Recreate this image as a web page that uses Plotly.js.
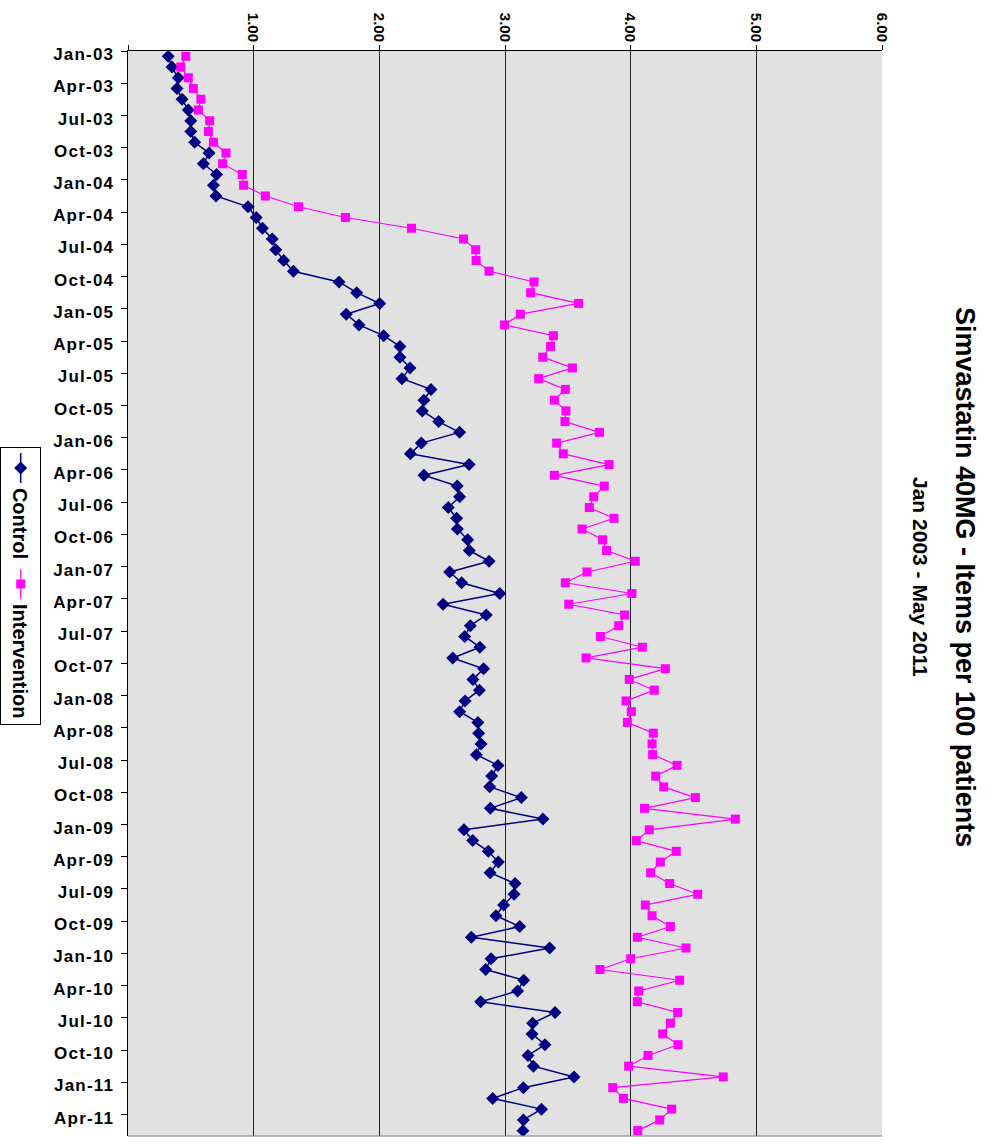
<!DOCTYPE html>
<html>
<head>
<meta charset="utf-8">
<script src="https://cdn.plot.ly/plotly-3.0.1.min.js"></script>
<style>
  html, body { margin: 0; padding: 0; background: #ffffff; overflow: hidden; }
  #chart {
    position: absolute; top: 0; left: 0;
    width: 1145px; height: 994px;
    transform-origin: 0 0;
    transform: translate(994px, 0) rotate(90deg);
  }
  #chart .xtick text { letter-spacing: 1.2px; }
</style>
</head>
<body>
<div id="chart"></div>
<script>
// ---- data ----
const months = [
  'Jan-03','Feb-03','Mar-03','Apr-03','May-03','Jun-03','Jul-03','Aug-03','Sep-03','Oct-03','Nov-03','Dec-03',
  'Jan-04','Feb-04','Mar-04','Apr-04','May-04','Jun-04','Jul-04','Aug-04','Sep-04','Oct-04','Nov-04','Dec-04',
  'Jan-05','Feb-05','Mar-05','Apr-05','May-05','Jun-05','Jul-05','Aug-05','Sep-05','Oct-05','Nov-05','Dec-05',
  'Jan-06','Feb-06','Mar-06','Apr-06','May-06','Jun-06','Jul-06','Aug-06','Sep-06','Oct-06','Nov-06','Dec-06',
  'Jan-07','Feb-07','Mar-07','Apr-07','May-07','Jun-07','Jul-07','Aug-07','Sep-07','Oct-07','Nov-07','Dec-07',
  'Jan-08','Feb-08','Mar-08','Apr-08','May-08','Jun-08','Jul-08','Aug-08','Sep-08','Oct-08','Nov-08','Dec-08',
  'Jan-09','Feb-09','Mar-09','Apr-09','May-09','Jun-09','Jul-09','Aug-09','Sep-09','Oct-09','Nov-09','Dec-09',
  'Jan-10','Feb-10','Mar-10','Apr-10','May-10','Jun-10','Jul-10','Aug-10','Sep-10','Oct-10','Nov-10','Dec-10',
  'Jan-11','Feb-11','Mar-11','Apr-11','May-11'
];

const control = [
  0.32,0.35,0.40,0.39,0.43,0.48,0.50,0.50,0.53,0.645,0.60,0.705,
  0.68,0.70,0.955,1.02,1.07,1.148,1.176,1.239,1.316,1.679,1.82,2.003,
  1.737,1.838,2.034,2.164,2.164,2.244,2.18,2.411,2.355,2.342,2.472,2.639,
  2.334,2.247,2.714,2.355,2.62,2.639,2.549,2.615,2.621,2.703,2.716,2.873,
  2.56,2.655,2.958,2.507,2.851,2.724,2.679,2.80,2.584,2.83,2.745,2.796,
  2.682,2.639,2.784,2.79,2.809,2.772,2.944,2.894,2.878,3.13,2.883,3.302,
  2.674,2.743,2.867,2.947,2.881,3.08,3.072,2.989,2.928,3.117,2.732,3.355,
  2.889,2.846,3.149,3.10,2.806,3.398,3.22,3.215,3.318,3.183,3.226,3.549,
  3.146,2.902,3.29,3.146,3.143
];

const intervention = [
  0.46,0.42,0.48,0.52,0.58,0.56,0.65,0.64,0.68,0.78,0.753,0.909,
  0.92,1.093,1.357,1.73,2.256,2.67,2.767,2.77,2.873,3.231,3.204,3.586,
  3.122,2.995,3.385,3.363,3.30,3.536,3.268,3.48,3.393,3.485,3.477,3.751,
  3.411,3.464,3.828,3.393,3.79,3.706,3.671,3.867,3.613,3.777,3.809,4.037,
  3.653,3.48,4.01,3.507,3.952,3.905,3.759,4.093,3.645,4.276,3.989,4.188,
  3.963,4.005,3.974,4.18,4.17,4.175,4.369,4.199,4.263,4.515,4.11,4.833,
  4.148,4.045,4.363,4.236,4.159,4.31,4.533,4.117,4.17,4.316,4.053,4.44,
  4.0,3.756,4.39,4.064,4.053,4.374,4.316,4.255,4.377,4.138,3.984,4.737,
  3.857,3.942,4.326,4.231,4.056
];

const tickLabels = [
  'Jan-03','Apr-03','Jul-03','Oct-03','Jan-04','Apr-04','Jul-04','Oct-04',
  'Jan-05','Apr-05','Jul-05','Oct-05','Jan-06','Apr-06','Jul-06','Oct-06',
  'Jan-07','Apr-07','Jul-07','Oct-07','Jan-08','Apr-08','Jul-08','Oct-08',
  'Jan-09','Apr-09','Jul-09','Oct-09','Jan-10','Apr-10','Jul-10','Oct-10',
  'Jan-11','Apr-11'
];

const valueTicks = [0, 1, 2, 3, 4, 5, 6];
const valueTickText = ['', '1.00', '2.00', '3.00', '4.00', '5.00', '6.00'];

const seriesNames = ['Control', 'Intervention'];
const titleText = 'Simvastatin 40MG - Items per 100 patients';
const subtitleText = 'Jan 2003 - May 2011';

// ---- build ----
const idx = months.map((m, i) => i);
const boundaryPositions = tickLabels.map(l => months.indexOf(l) - 0.5);   // tick marks between categories
const labelPositions = tickLabels.map(l => months.indexOf(l) - 0.17);     // labels sit just after the tick

const SANS = '"Liberation Sans", Arial, sans-serif';

const traces = [
  {
    type: 'scatter', mode: 'lines+markers', name: seriesNames[0],
    x: idx, y: control, text: months,
    line: { color: '#000080', width: 1.5 },
    marker: { symbol: 'diamond', size: 10, color: '#000080' }
  },
  {
    type: 'scatter', mode: 'lines+markers', name: seriesNames[1],
    x: idx, y: intervention, text: months,
    line: { color: '#ff00ff', width: 1.2 },
    marker: { symbol: 'square', size: 9, color: '#ff00ff' }
  }
];

const layout = {
  width: 1145, height: 994,
  margin: { l: 51, r: 9, t: 112, b: 128, pad: 0, autoexpand: false },
  paper_bgcolor: '#ffffff',
  plot_bgcolor: '#e1e1e1',
  showlegend: true,
  title: {
    text: titleText,
    x: 0.504, xref: 'container', xanchor: 'center',
    y: 1 - 29 / 994, yref: 'container', yanchor: 'middle',
    font: { family: SANS, size: 27, color: '#000000', weight: 700 }
  },
  annotations: [{
    text: subtitleText, showarrow: false,
    xref: 'paper', yref: 'paper', x: 0.485, y: 1.0507,
    xanchor: 'center', yanchor: 'middle',
    font: { family: SANS, size: 21, color: '#000000', weight: 700 }
  }],
  xaxis: {
    type: 'linear',
    range: [-0.5, months.length - 0.5],
    tickmode: 'array', tickvals: labelPositions, ticktext: tickLabels,
    tickangle: -90,
    ticks: 'outside', ticklen: 6, tickwidth: 1, tickcolor: 'rgba(0,0,0,0)',
    minor: {
      tickmode: 'array', tickvals: boundaryPositions,
      ticks: 'outside', ticklen: 6, tickwidth: 1, tickcolor: '#000000',
      showgrid: false
    },
    showgrid: false, zeroline: false,
    showline: true, linecolor: '#000000', linewidth: 1, mirror: false,
    tickfont: { family: SANS, size: 17, color: '#000000', weight: 700 },
    automargin: false, fixedrange: true
  },
  yaxis: {
    range: [0, 6],
    tickmode: 'array', tickvals: valueTicks, ticktext: valueTickText,
    ticks: 'outside', ticklen: 5, tickwidth: 1, tickcolor: '#000000',
    showgrid: true, gridcolor: '#222222', gridwidth: 1,
    zeroline: false,
    showline: true, linecolor: '#000000', linewidth: 1, mirror: false,
    tickfont: { family: SANS, size: 15, color: '#000000', weight: 700 },
    automargin: false, fixedrange: true
  },
  shapes: [{
    type: 'line', xref: 'paper', yref: 'paper', x0: 1, x1: 1, y0: 0, y1: 1,
    line: { color: '#808080', width: 1 }
  }],
  legend: {
    orientation: 'h',
    x: 0.493, xanchor: 'center',
    y: -0.1695, yanchor: 'bottom',
    bgcolor: '#ffffff', bordercolor: '#000000', borderwidth: 1,
    font: { family: SANS, size: 20, color: '#000000', weight: 700 },
    itemwidth: 30
  }
};

Plotly.newPlot('chart', traces, layout, { displayModeBar: false, staticPlot: true });
</script>
</body>
</html>
